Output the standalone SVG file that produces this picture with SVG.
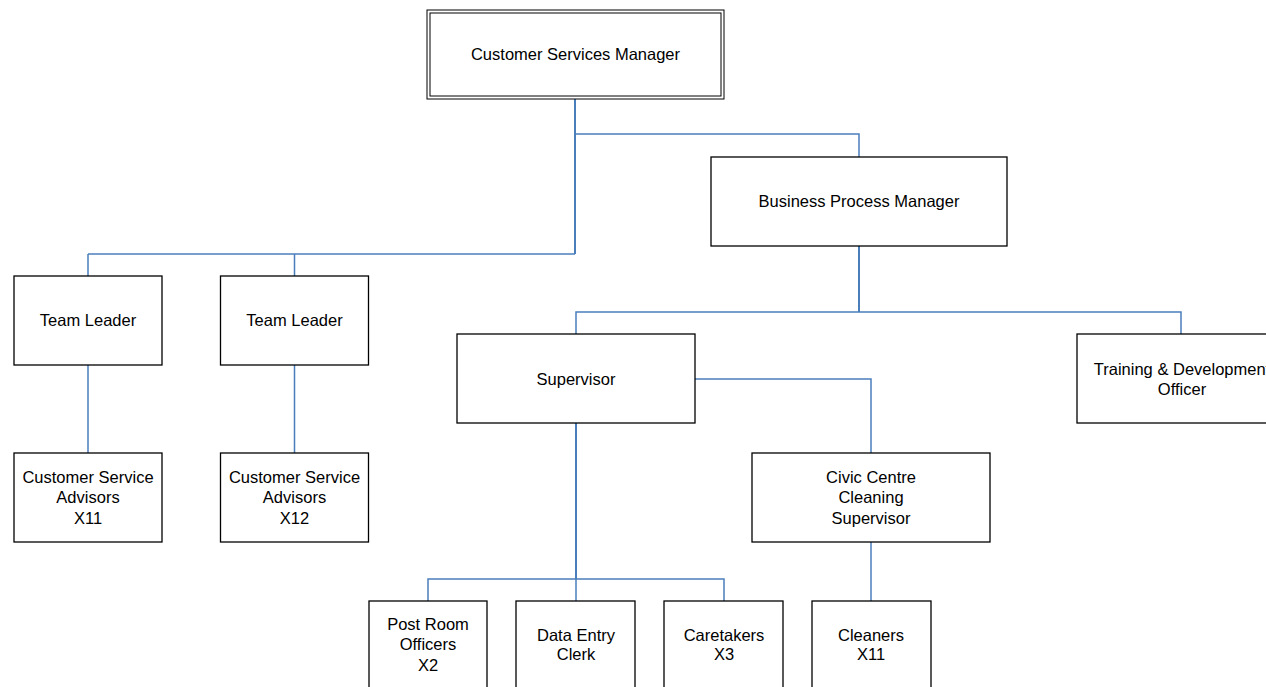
<svg xmlns="http://www.w3.org/2000/svg" width="1266" height="687" viewBox="0 0 1266 687">
<style>
.box{fill:#fff;stroke:#000;stroke-width:1.3}
.thin{fill:none;stroke:#000;stroke-width:1}
.c{fill:none;stroke:#4a7ebb;stroke-width:1.5}
.ck{fill:none;stroke:#4a7ebb;stroke-width:2}
text{font-family:"Liberation Sans",Arial,sans-serif;font-size:16.5px;fill:#000;text-anchor:middle}
</style>
<rect width="1266" height="687" fill="#fff"/>
<g id="connectors">
<path class="ck" d="M575,99 V254"/>
<path class="c" d="M575,134 H859 V157"/>
<path class="c" d="M88,254 H575"/>
<path class="c" d="M88,254 V276 M294.5,254 V276"/>
<path class="c" d="M88,365 V453 M294.5,365 V453"/>
<path class="ck" d="M859,246 V312"/>
<path class="c" d="M576,334 V312 H1181 V334"/>
<path class="c" d="M695,379 H871 V453"/>
<path class="ck" d="M576,423 V579"/>
<path class="c" d="M428,601 V579 H724 V601"/>
<path class="c" d="M576,579 V601"/>
<path class="c" d="M871,541 V601"/>
</g>
<g id="csm">
<rect class="thin" x="427" y="10" width="297" height="89"/>
<rect class="thin" x="430" y="13" width="291" height="83"/>
<text x="575.5" y="60">Customer Services Manager</text>
</g>
<g id="bpm">
<rect class="box" x="711" y="157" width="296" height="89"/>
<text x="859" y="207">Business Process Manager</text>
</g>
<g id="tl1">
<rect class="box" x="14" y="276" width="148" height="89"/>
<text x="88" y="326">Team Leader</text>
</g>
<g id="tl2">
<rect class="box" x="220.5" y="276" width="148" height="89"/>
<text x="294.5" y="326">Team Leader</text>
</g>
<g id="csa1">
<rect class="box" x="14" y="453" width="148" height="89"/>
<text x="88" y="483">Customer Service</text>
<text x="88" y="503">Advisors</text>
<text x="88" y="524">X11</text>
</g>
<g id="csa2">
<rect class="box" x="220.5" y="453" width="148" height="89"/>
<text x="294.5" y="483">Customer Service</text>
<text x="294.5" y="503">Advisors</text>
<text x="294.5" y="524">X12</text>
</g>
<g id="supervisor">
<rect class="box" x="457" y="334" width="238" height="89"/>
<text x="576" y="385">Supervisor</text>
</g>
<g id="training">
<rect class="box" x="1077" y="334" width="210" height="89"/>
<text x="1182" y="375">Training &amp; Development</text>
<text x="1182" y="395">Officer</text>
</g>
<g id="civic">
<rect class="box" x="752" y="453" width="238" height="89"/>
<text x="871" y="483">Civic Centre</text>
<text x="871" y="503">Cleaning</text>
<text x="871" y="524">Supervisor</text>
</g>
<g id="postroom">
<rect class="box" x="369" y="601" width="118" height="89"/>
<text x="428" y="630">Post Room</text>
<text x="428" y="650">Officers</text>
<text x="428" y="671">X2</text>
</g>
<g id="dataentry">
<rect class="box" x="516" y="601" width="119" height="89"/>
<text x="576" y="641">Data Entry</text>
<text x="576" y="660">Clerk</text>
</g>
<g id="caretakers">
<rect class="box" x="664" y="601" width="119" height="89"/>
<text x="724" y="641">Caretakers</text>
<text x="724" y="660">X3</text>
</g>
<g id="cleaners">
<rect class="box" x="812" y="601" width="119" height="89"/>
<text x="871" y="641">Cleaners</text>
<text x="871" y="660">X11</text>
</g>
</svg>
